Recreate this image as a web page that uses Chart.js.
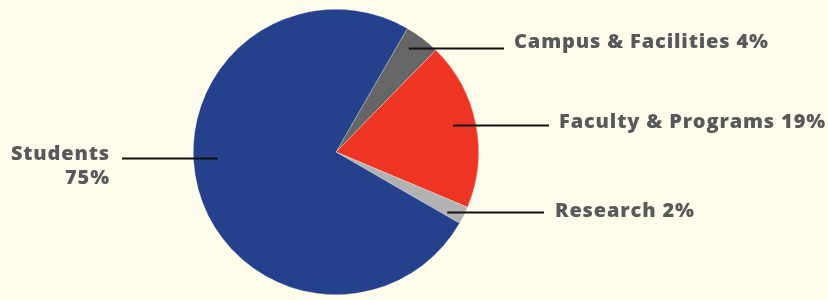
<!DOCTYPE html>
<html>
<head>
<meta charset="utf-8">
<script src="https://cdn.jsdelivr.net/npm/chart.js@4/dist/chart.umd.min.js"></script>
<style>
    html, body { margin: 0; padding: 0; background: #FFFCEB; }
    #wrap { width: 828px; height: 300px; }
</style>
</head>
<body>
<div id="wrap"><canvas id="pie"></canvas></div>
<script>
// budget shares, clockwise from the top-right
const categories = ["Campus & Facilities", "Faculty & Programs", "Research", "Students"];
const shares = [4, 19, 2, 75];
const sliceColors = ["#666666", "#EE3524", "#B2B2B2", "#25418C"];

// label placement: line start relative to pie centre (in radii), line end x and text x (px)
const labelLayout = [
    { sx: 0.51, sy: -0.73, ex: 504, tx: 514, ty: 48, align: "left" },
    { sx: 0.82, sy: -0.19, ex: 549, tx: 559, ty: 128, align: "left" },
    { sx: 0.78, sy: 0.42, ex: 544, tx: 555, ty: 217, align: "left" },
    { sx: -0.83, sy: 0.04, ex: 122, tx: 110, ty: 160, align: "right", split: true }
];

const leaderLabels = {
    id: "leaderLabels",
    afterDatasetsDraw: function (chart) {
        const ctx = chart.ctx;
        const arcs = chart.getDatasetMeta(0).data;

        ctx.save();
        arcs.forEach(function (arc, i) {
            const lay = labelLayout[i];
            const r = arc.outerRadius;
            const x0 = arc.x + lay.sx * r;
            const y0 = Math.round(arc.y + lay.sy * r) + 0.5;

            ctx.strokeStyle = "#111111";
            ctx.lineWidth = 2;
            ctx.beginPath();
            ctx.moveTo(x0, y0);
            ctx.lineTo(lay.ex, y0);
            ctx.stroke();

            ctx.fillStyle = "#58595B";
            ctx.font = "800 20px 'Open Sans'";
            ctx.letterSpacing = "0.85px";
            ctx.textAlign = lay.align;
            ctx.textBaseline = "alphabetic";
            if (lay.split) {
                ctx.fillText(categories[i], lay.tx, lay.ty);
                ctx.fillText(shares[i] + "%", lay.tx, lay.ty + 24);
            } else {
                ctx.fillText(categories[i] + " " + shares[i] + "%", lay.tx, lay.ty);
            }
        });
        ctx.restore();
    }
};

new Chart(document.getElementById("pie"), {
    type: "pie",
    data: {
        labels: categories,
        datasets: [{
            data: shares,
            backgroundColor: sliceColors,
            borderColor: "rgba(255, 255, 255, 0.45)",
            borderWidth: 0.6
        }]
    },
    options: {
        responsive: true,
        maintainAspectRatio: false,
        animation: false,
        rotation: 30,
        layout: { padding: { left: 193, right: 349, top: 9, bottom: 5 } },
        plugins: {
            legend: { display: false },
            tooltip: { enabled: false }
        },
        events: []
    },
    plugins: [leaderLabels]
});
</script>
</body>
</html>
